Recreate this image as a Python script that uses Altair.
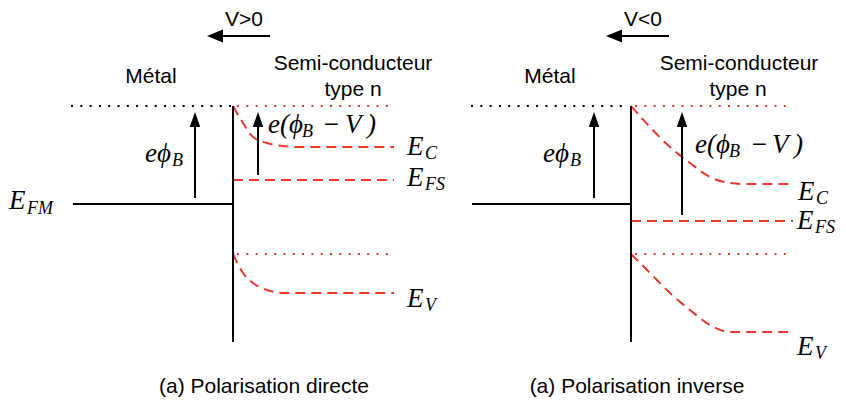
import altair as alt
import pandas as pd

# ---- diagram geometry (page-like coordinate system, y downward) ----
# solid black segments: x, y, x2, y2
solid_x = [73, 233, 472, 631, 195, 258, 594, 682, 222, 620]
solid_y = [204, 106, 204, 106, 198, 175, 198, 215, 36, 36]
solid_x2 = [233, 233, 631, 631, 195, 258, 594, 682, 270, 669]
solid_y2 = [204, 342, 204, 342, 126, 126, 126, 126, 36, 36]

# dotted reference levels (vacuum / band edges at interface)
dot_x = [71, 471, 237, 237, 635, 635]
dot_x2 = [231, 629, 394, 394, 793, 793]
dot_y = [106, 106, 106, 254, 106, 254]
dot_col = ["black", "black", "red", "red", "red", "red"]

# Fermi level of the semiconductor (straight dashed)
efs_x = [233, 631]
efs_x2 = [394, 793]
efs_y = [180, 221]

# band-bending curves (dashed red)
curve_id = (["LC"] * 7 + ["LV"] * 7 + ["RC"] * 8 + ["RV"] * 8)
curve_x = ([233, 243, 253, 267, 283, 300, 394] +
           [233, 243, 253, 267, 283, 300, 394] +
           [631, 650, 670, 690, 710, 730, 745, 793] +
           [631, 650, 670, 690, 710, 730, 745, 793])
curve_y = ([106, 123, 137, 143, 146, 147, 147] +
           [254, 273, 283, 290, 293, 293, 293] +
           [106, 127, 147, 163, 177, 183, 184, 184] +
           [254, 273, 293, 310, 325, 332, 332, 332])

# arrow heads
up_x = [195, 258, 594, 682]
up_y = [119.5, 119.5, 119.5, 119.5]
left_x = [215, 614]
left_y = [36, 36]

# sans labels
sans_text = ["V>0", "V<0", "Métal", "Métal", "Semi-conducteur", "Semi-conducteur",
             "type n", "type n", "(a) Polarisation directe", "(a) Polarisation inverse"]
sans_x = [244, 643, 151, 550, 353, 739, 353, 738, 264, 637]
sans_y = [26, 26, 83, 83, 70, 70, 96, 96, 393, 393]

# math labels (main size)
math_text = ["E", "eϕ", "e(ϕ", "−", "V", ")", "E", "E", "E",
             "eϕ", "e(ϕ", "−", "V", ")", "E", "E", "E"]
math_x = [9, 145, 268, 322, 345, 367, 407, 407, 407,
          543, 695, 750, 772, 794, 798, 797, 797]
math_y = [209, 162, 133, 133, 133, 133, 155, 186, 307,
          162, 153, 153, 153, 153, 200, 229, 355]

# math subscripts
sub_text = ["FM", "B", "B", "C", "FS", "V",
            "B", "B", "C", "FS", "V"]
sub_x = [27, 172, 302, 425, 425, 425,
         570, 729, 816, 815, 815]
sub_y = [214, 166, 137, 159, 190, 311,
         166, 157, 204, 233, 359]

RED = "#e8392e"

X = alt.Scale(domain=[8, 838], nice=False, zero=False)
Y = alt.Scale(domain=[8, 399], reverse=True, nice=False, zero=False)

solid_df = pd.DataFrame({"x": solid_x, "y": solid_y, "x2": solid_x2, "y2": solid_y2})
dot_df = pd.DataFrame({"x": dot_x, "x2": dot_x2, "y": dot_y, "c": dot_col})
efs_df = pd.DataFrame({"x": efs_x, "x2": efs_x2, "y": efs_y})
curve_df = pd.DataFrame({"id": curve_id, "x": curve_x, "y": curve_y})
up_df = pd.DataFrame({"x": up_x, "y": up_y})
left_df = pd.DataFrame({"x": left_x, "y": left_y})
sans_df = pd.DataFrame({"t": sans_text, "x": sans_x, "y": sans_y})
math_df = pd.DataFrame({"t": math_text, "x": math_x, "y": math_y})
sub_df = pd.DataFrame({"t": sub_text, "x": sub_x, "y": sub_y})

solid = alt.Chart(solid_df).mark_rule(color="black", strokeWidth=2).encode(
    x=alt.X("x:Q", scale=X, axis=None), y=alt.Y("y:Q", scale=Y, axis=None),
    x2="x2:Q", y2="y2:Q")

dots = alt.Chart(dot_df).mark_rule(strokeWidth=2, strokeDash=[2, 7.3]).encode(
    x=alt.X("x:Q", scale=X, axis=None), y=alt.Y("y:Q", scale=Y, axis=None),
    x2="x2:Q",
    color=alt.Color("c:N", scale=alt.Scale(domain=["black", "red"], range=["black", RED]), legend=None))

efs = alt.Chart(efs_df).mark_rule(color=RED, strokeWidth=2, strokeDash=[10, 6]).encode(
    x=alt.X("x:Q", scale=X, axis=None), y=alt.Y("y:Q", scale=Y, axis=None), x2="x2:Q")

curves = alt.Chart(curve_df).mark_line(color=RED, strokeWidth=2, strokeDash=[10, 6],
                                       interpolate="monotone").encode(
    x=alt.X("x:Q", scale=X, axis=None), y=alt.Y("y:Q", scale=Y, axis=None),
    detail="id:N", order="x:Q")

ups = alt.Chart(up_df).mark_point(shape="M0,-1L0.7,1L-0.7,1Z", size=225, filled=True,
                                  color="black", opacity=1, strokeWidth=0).encode(
    x=alt.X("x:Q", scale=X, axis=None), y=alt.Y("y:Q", scale=Y, axis=None))

lefts = alt.Chart(left_df).mark_point(shape="M-1,0L1,-0.8L1,0.8Z", size=256, filled=True,
                                      color="black", opacity=1, strokeWidth=0).encode(
    x=alt.X("x:Q", scale=X, axis=None), y=alt.Y("y:Q", scale=Y, axis=None))

sans = alt.Chart(sans_df).mark_text(font="Liberation Sans", fontSize=21, align="center",
                                    baseline="alphabetic", color="black").encode(
    x=alt.X("x:Q", scale=X, axis=None), y=alt.Y("y:Q", scale=Y, axis=None), text="t:N")

math = alt.Chart(math_df).mark_text(font="Liberation Serif", fontStyle="italic", fontSize=27,
                                    align="left", baseline="alphabetic", color="black").encode(
    x=alt.X("x:Q", scale=X, axis=None), y=alt.Y("y:Q", scale=Y, axis=None), text="t:N")

sub = alt.Chart(sub_df).mark_text(font="Liberation Serif", fontStyle="italic", fontSize=18,
                                  align="left", baseline="alphabetic", color="black").encode(
    x=alt.X("x:Q", scale=X, axis=None), y=alt.Y("y:Q", scale=Y, axis=None), text="t:N")

chart = alt.layer(dots, efs, curves, solid, ups, lefts, sans, math, sub).properties(
    width=830, height=391, padding=0, autosize=alt.AutoSizeParams(type="none")
).configure_view(stroke=None)

chart.save("out.html", embed_options={"renderer": "svg", "actions": False})
